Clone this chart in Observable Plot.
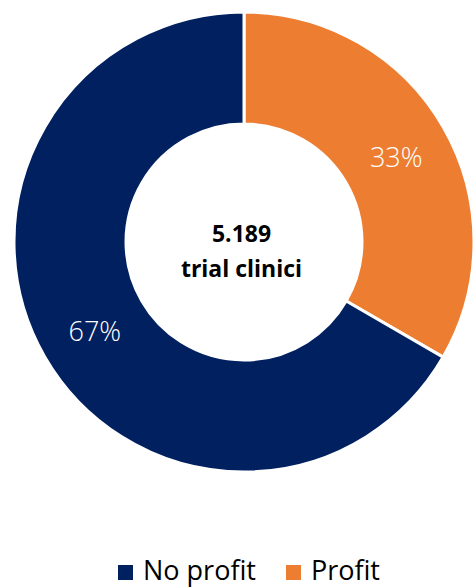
<!DOCTYPE html>
<html>
<head>
<meta charset="utf-8">
<script src="https://cdn.jsdelivr.net/npm/d3@7"></script>
<script src="https://cdn.jsdelivr.net/npm/@observablehq/plot@0.6"></script>
<style>
  html, body { margin: 0; padding: 0; background: #ffffff; }
  body { width: 473px; height: 587px; overflow: hidden; font-family: "Open Sans", "Noto Sans", sans-serif; }
  #chart svg { display: block; overflow: visible; }
  .legend { display: flex; align-items: center; margin-top: 10px; margin-left: 118px; line-height: 30px; font-size: 27px; color: #000; white-space: nowrap; }
  .legend .item { display: flex; align-items: center; }
  .legend .sw { width: 15px; height: 15px; margin-right: 10px; margin-top: 4px; }
  .legend .item + .item { margin-left: 30px; }
</style>
</head>
<body>
<div id="chart"></div>
<script>
// ---- data ----
const categories = ["Profit", "No profit"];          // drawing order, clockwise from 12 o'clock
const counts = [1730, 3459];                          // clinical trials per category (total 5.189)
const legendOrder = ["No profit", "Profit"];
const colors = ["#002060", "#ED7D31"];                // matches legendOrder
const centerLines = ["5.189", "trial clinici"];

const innerRatio = 0.513;

const data = categories.map((c, i) => ({category: c, value: counts[i]}));
const total = d3.sum(counts);
const pie = d3.pie().sort(null).value(d => d.value);
const arcs = pie(data);

// label positions in data units (unit circle), y up
const unitArc = d3.arc().innerRadius(innerRatio).outerRadius(1);
const labels = arcs.map(a => {
  const [cx, cy] = unitArc.centroid(a);
  return {x: cx, y: -cy, text: Math.round(a.data.value / total * 100) + "%"};
});

const slices = (index, scales) => {
  const cx = scales.x(0), cy = scales.y(0);
  const R = scales.x(1) - cx;
  const arc = d3.arc().innerRadius(R * innerRatio).outerRadius(R);
  const g = d3.create("svg:g").attr("transform", `translate(${cx},${cy})`);
  g.selectAll("path")
    .data(arcs)
    .join("path")
    .attr("d", arc)
    .attr("fill", d => scales.color ? scales.color(d.data.category) : colors[legendOrder.indexOf(d.data.category)])
    .attr("stroke", "#ffffff")
    .attr("stroke-width", 3)
    .attr("stroke-linejoin", "round");
  return g.node();
};

const plot = Plot.plot({
  width: 473,
  height: 545,
  margin: 0,
  style: {fontFamily: "'Open Sans', 'Noto Sans', sans-serif", background: "transparent", overflow: "visible"},
  x: {domain: [-1, 1], range: [14, 474], axis: null},
  y: {domain: [-1, 1], range: [472, 12], axis: null},
  color: {domain: legendOrder, range: colors},
  marks: [
    Plot.dot(data, {x: 0, y: 0, r: 0, fill: "category"}),
    slices,
    Plot.text(labels, {x: "x", y: "y", text: "text", fill: "#ffffff", fontSize: 27, fontWeight: 300, dx: 1, dy: 3}),
    Plot.text([centerLines.join("\n")], {x: 0, y: 0, text: d => d, fill: "#000000", fontSize: 23, fontWeight: "bold", lineHeight: 1.52, dx: -3, dy: 6})
  ]
});

document.getElementById("chart").appendChild(plot);

const legend = d3.select("body").append("div").attr("class", "legend");
legendOrder.forEach((c, i) => {
  const item = legend.append("div").attr("class", "item");
  item.append("div").attr("class", "sw").style("background", colors[i]);
  item.append("span").text(c);
});
</script>
</body>
</html>
